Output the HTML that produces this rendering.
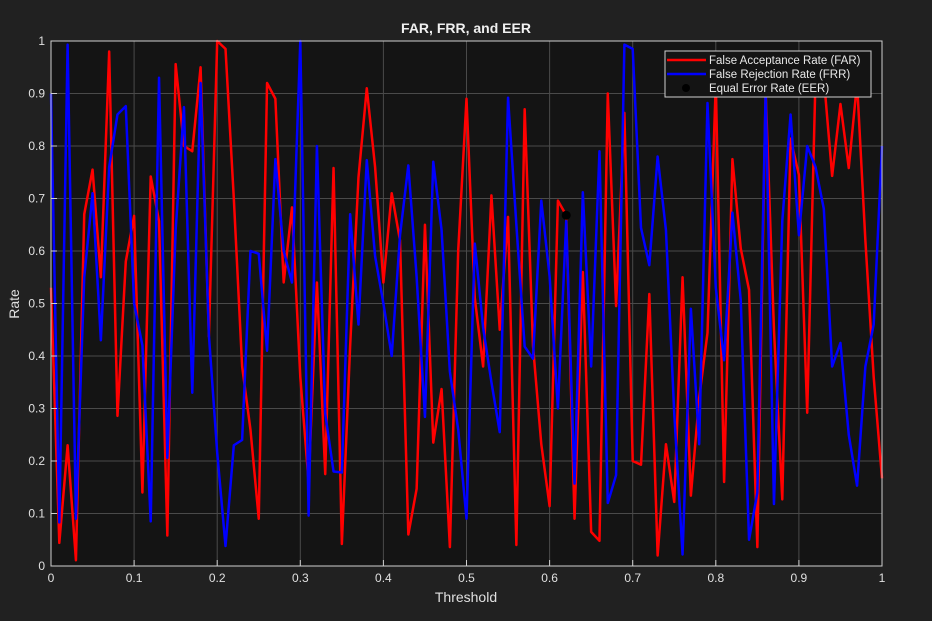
<!DOCTYPE html>
<html><head><meta charset="utf-8"><style>
html,body{margin:0;padding:0;background:#212121;}
svg{display:block;font-family:"Liberation Sans",sans-serif;}
</style></head><body>
<svg id="chart" width="932" height="621">
<rect width="932" height="621" fill="#212121"/>
<rect x="51" y="41" width="831" height="525" fill="#141414"/>
<g id="grid"></g>
<g id="series"></g>
<rect x="51" y="41" width="831" height="525" fill="none" stroke="#d0d0d0" stroke-width="1"/>
<g id="ticks"></g>
<text x="466" y="33" text-anchor="middle" fill="#f0f0f0" font-size="14" font-weight="bold">FAR, FRR, and EER</text>
<text x="466" y="602" text-anchor="middle" fill="#e0e0e0" font-size="14">Threshold</text>
<text x="19" y="304" text-anchor="middle" fill="#e0e0e0" font-size="14" transform="rotate(-90 19 304)">Rate</text>
<g>
<rect x="665" y="51" width="206" height="46" fill="#141414" stroke="#d0d0d0" stroke-width="1"/>
<line x1="667" y1="60" x2="706" y2="60" stroke="#ff0000" stroke-width="2.5"/>
<text x="709" y="64" fill="#e8e8e8" font-size="11.5">False Acceptance Rate (FAR)</text>
<line x1="667" y1="74" x2="706" y2="74" stroke="#0000ff" stroke-width="2.5"/>
<text x="709" y="78" fill="#e8e8e8" font-size="11.5">False Rejection Rate (FRR)</text>
<circle cx="686" cy="88" r="4" fill="#000"/>
<text x="709" y="92" fill="#e8e8e8" font-size="11.5">Equal Error Rate (EER)</text>
</g>
</svg>
<script>
const far = [0.53,0.044,0.23,0.011,0.67,0.755,0.55,0.98,0.286,0.58,
0.667,0.14,0.742,0.657,0.058,0.956,0.80,0.79,0.95,0.437,
1.0,0.985,0.70,0.38,0.26,0.09,0.92,0.89,0.54,0.683,
0.36,0.16,0.54,0.175,0.758,0.042,0.42,0.74,0.91,0.76,
0.54,0.71,0.62,0.06,0.147,0.65,0.235,0.337,0.036,0.60,
0.89,0.51,0.38,0.706,0.45,0.665,0.04,0.87,0.42,0.232,
0.114,0.696,0.668,0.09,0.56,0.065,0.048,0.90,0.495,0.863,
0.20,0.193,0.518,0.02,0.232,0.122,0.55,0.134,0.32,0.444,
0.92,0.16,0.775,0.605,0.526,0.036,0.905,0.45,0.127,0.814,
0.745,0.292,0.93,0.93,0.743,0.88,0.758,0.92,0.62,0.36,0.167];
const frr = [0.90,0.083,0.993,0.09,0.55,0.71,0.43,0.76,0.86,0.876,
0.50,0.42,0.085,0.93,0.206,0.64,0.874,0.33,0.92,0.44,
0.216,0.038,0.23,0.24,0.60,0.595,0.41,0.775,0.60,0.54,
1.0,0.096,0.80,0.29,0.18,0.178,0.67,0.46,0.773,0.59,
0.50,0.40,0.63,0.763,0.55,0.284,0.77,0.64,0.37,0.26,
0.09,0.614,0.454,0.35,0.255,0.892,0.65,0.418,0.395,0.696,
0.552,0.30,0.657,0.157,0.712,0.38,0.79,0.12,0.173,0.993,
0.985,0.644,0.573,0.78,0.64,0.29,0.022,0.49,0.232,0.882,
0.53,0.392,0.673,0.507,0.05,0.14,0.905,0.118,0.657,0.86,
0.63,0.80,0.76,0.68,0.38,0.425,0.25,0.153,0.38,0.46,0.80];
const eerX = [0.62];
const eerY = [0.668];
const tickLabels = ["0","0.1","0.2","0.3","0.4","0.5","0.6","0.7","0.8","0.9","1"];
const tickValues = [0,0.1,0.2,0.3,0.4,0.5,0.6,0.7,0.8,0.9,1];

const NS="http://www.w3.org/2000/svg";
const X0=51,X1=882,Y0=566,Y1=41;
const sx=v=>X0+(X1-X0)*v;
const sy=v=>Y0-(Y0-Y1)*v;
const grid=document.getElementById('grid');
const ticks=document.getElementById('ticks');
const series=document.getElementById('series');
function mk(t,a){const e=document.createElementNS(NS,t);for(const k in a)e.setAttribute(k,a[k]);return e;}
tickValues.forEach((v,i)=>{
  const gx=mk('line',{x1:sx(v),x2:sx(v),y1:Y1,y2:Y0,stroke:'#4a4a4a','stroke-width':1});
  
  
  grid.appendChild(gx);
  const gy=mk('line',{x1:X0,x2:X1,y1:sy(v),y2:sy(v),stroke:'#4a4a4a','stroke-width':1});
  
  
  grid.appendChild(gy);
  const tx=mk('line',{x1:sx(v),x2:sx(v),y1:Y0,y2:Y0-6,stroke:'#d0d0d0'});
  
  
  ticks.appendChild(tx);
  const ty=mk('line',{x1:X0,x2:X0+6,y1:sy(v),y2:sy(v),stroke:'#d0d0d0'});
  
  
  ticks.appendChild(ty);
  const lx=mk('text',{x:sx(v),y:Y0+16,'text-anchor':'middle',fill:'#e0e0e0','font-size':12});
  lx.textContent=tickLabels[i];
  
  
  ticks.appendChild(lx);
  const ly=mk('text',{x:X0-6,y:sy(v)+4,'text-anchor':'end',fill:'#e0e0e0','font-size':12});
  ly.textContent=tickLabels[i];
  
  
  ticks.appendChild(ly);
});
function line(arr,color,name){
  const n=arr.length-1;
  const pts=arr.map((v,i)=>sx(i/n).toFixed(2)+','+sy(v).toFixed(2)).join(' ');
  const p=mk('polyline',{points:pts,fill:'none',stroke:color,'stroke-width':2.5,'stroke-linejoin':'round'});
  
  
  series.appendChild(p);
}
line(far,'#ff0000','far-line');
line(frr,'#0000ff','frr-line');
eerX.forEach((x,i)=>{
  const c=mk('circle',{cx:sx(x),cy:sy(eerY[i]),r:4.5,fill:'#000'});
  
  
  series.appendChild(c);
});
</script>
</body></html>
